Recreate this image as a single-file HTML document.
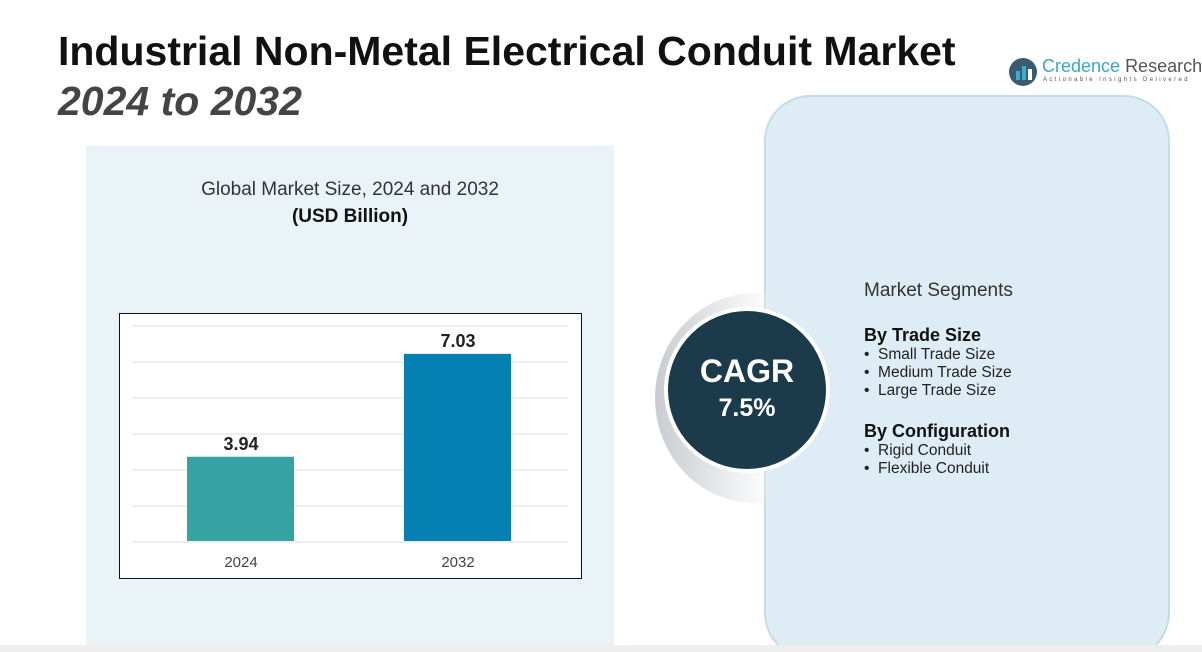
<!DOCTYPE html>
<html><head><meta charset="utf-8"><style>
html,body{margin:0;width:1202px;height:652px;overflow:hidden}
body{background:#fff;position:relative;font-family:"Liberation Sans",sans-serif}
.abs{position:absolute}
</style></head><body>
<div class="abs" style="left:58px;top:28px;font-size:41px;font-weight:bold;color:#111;white-space:nowrap">Industrial Non-Metal Electrical Conduit Market</div>
<div class="abs" style="left:58px;top:78px;font-size:41px;font-weight:bold;font-style:italic;color:#444">2024 to 2032</div>
<div class="abs" style="left:1008px;top:56px;width:194px;height:34px;overflow:hidden">
 <svg width="32" height="32" style="position:absolute;left:0;top:0"><circle cx="15" cy="16" r="14" fill="#3b5b70"/><rect x="8" y="15" width="4" height="9" fill="#3ab0d0"/><rect x="14" y="10" width="4" height="14" fill="#3ab0d0"/><rect x="20" y="13" width="4" height="11" fill="#fff"/></svg>
 <div class="abs" style="left:34px;top:0;font-size:18px;color:#3aa6c8;white-space:nowrap">Credence <span style="color:#555">Research</span></div>
 <div class="abs" style="left:35px;top:21px;font-size:6px;color:#555;letter-spacing:2.4px;white-space:nowrap">Actionable Insights Delivered</div>
</div>
<div class="abs" style="left:86px;top:146px;width:528px;height:506px;background:#eaf3f8"></div>
<div class="abs" style="left:86px;top:179px;width:528px;text-align:center;font-size:19px;color:#333">Global Market Size, 2024 and 2032</div>
<div class="abs" style="left:86px;top:206px;width:528px;text-align:center;font-size:19px;font-weight:bold;color:#111">(USD Billion)</div>
<svg class="abs" id="chart" style="left:0;top:0" width="1202" height="652"></svg>
<div class="abs" style="left:764px;top:95px;width:402px;height:560px;background:#deedf5;border:2px solid #c5dde8;border-radius:46px"></div>
<div class="abs" style="left:655px;top:293px;width:200px;height:210px;border-radius:50%;background:linear-gradient(90deg,#c8ccd0 0%,#eef0f1 40%,rgba(255,255,255,0) 60%)"></div>
<div class="abs" style="left:664px;top:307px;width:158px;height:158px;border-radius:50%;background:#1b3b4b;border:4px solid #fff;color:#fff;text-align:center">
 <div style="margin-top:42px;font-size:32px;font-weight:bold">CAGR</div>
 <div style="font-size:25px;font-weight:bold;margin-top:4px">7.5%</div>
</div>
<div class="abs" style="left:864px;top:282px;color:#222;font-size:15.5px;line-height:18px">
 <div style="font-size:19px;color:#333;margin-bottom:24px">Market Segments</div>
 <div style="font-size:18px;font-weight:bold;color:#111;line-height:22px">By Trade Size</div>
 <div>•&nbsp;&nbsp;Small Trade Size</div><div>•&nbsp;&nbsp;Medium Trade Size</div><div>•&nbsp;&nbsp;Large Trade Size</div>
 <div style="font-size:18px;font-weight:bold;color:#111;line-height:22px;margin-top:20px">By Configuration</div>
 <div>•&nbsp;&nbsp;Rigid Conduit</div><div>•&nbsp;&nbsp;Flexible Conduit</div>
</div>
<div class="abs" style="left:0;top:645px;width:1202px;height:7px;background:#eee"></div>
<script>
const categories=["2024","2032"];
const values=[3.94,7.03];
const valueLabels=["3.94","7.03"];
const colors=["#35a3a3","#0680b2"];
const NS="http://www.w3.org/2000/svg";
const svg=document.getElementById('chart');
const base=541,k=33.3,v0=1.41;
function y(v){return base-(v-v0)*k;}
function xc(i){return 241+i*217;}
function mk(t,a){const e=document.createElementNS(NS,t);for(const n in a)e.setAttribute(n,a[n]);svg.appendChild(e);return e;}
const frame=mk('rect',{x:119.5,y:313.5,width:462,height:265,fill:'#fff',stroke:'#111','stroke-width':1});


for(let g=0;g<7;g++){const gy=326+g*36;const l=mk('line',{x1:132,x2:568,y1:gy,y2:gy,stroke:'#ddd'});

}
categories.forEach((c,i)=>{
 const top=y(values[i]);
 const r=mk('rect',{x:xc(i)-54,y:top,width:107,height:base-top,fill:colors[i]});
 
 
 const t=mk('text',{x:xc(i),y:top-7,'text-anchor':'middle','font-size':18,'font-weight':'bold',fill:'#222','font-family':'Liberation Sans'});t.textContent=valueLabels[i];
 
 
 const xl=mk('text',{x:xc(i),y:567,'text-anchor':'middle','font-size':15,fill:'#444','font-family':'Liberation Sans'});xl.textContent=c;
 
 
});
</script>
</body></html>
